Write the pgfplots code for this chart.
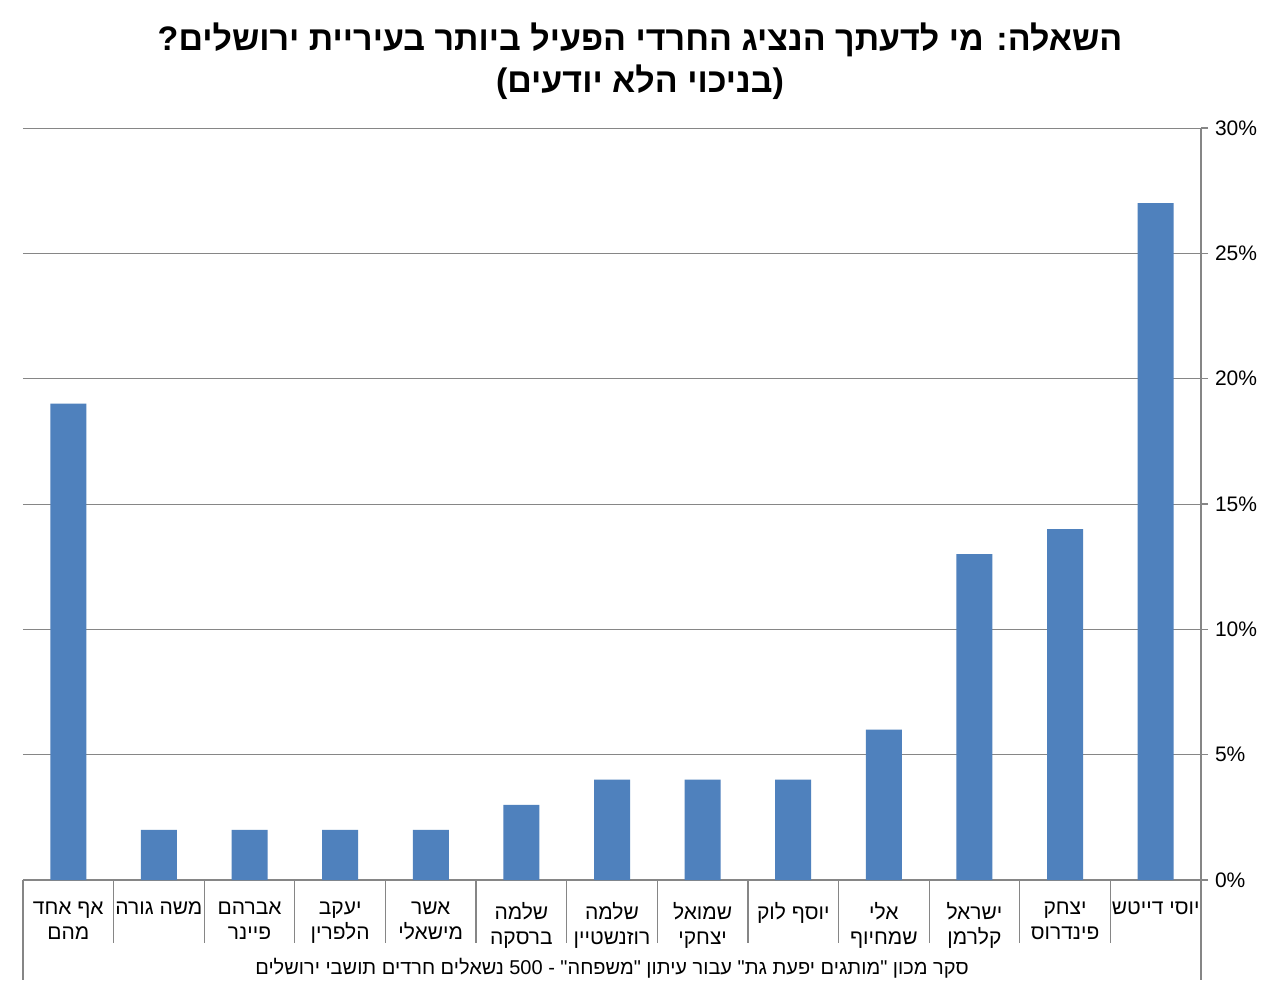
\documentclass[border=0pt]{standalone}
\usepackage{fontspec}
\setmainfont{Liberation Sans}
\newfontfamily\hebfont[Script=Hebrew]{Liberation Sans}
\TeXXeTstate=1
\usepackage{pgfplots}
\pgfplotsset{compat=1.18}
\definecolor{barblue}{HTML}{4F81BD}
\definecolor{gridgray}{HTML}{868686}
\newcommand\heb[1]{{\hebfont\beginR #1\endR}}
\begin{document}
\begin{tikzpicture}
\fill[white] (-11.5pt,-56pt) rectangle (626.5pt,440pt);
\path[use as bounding box] (-11.5pt,-56pt) rectangle (626.5pt,440pt);
\begin{axis}[
    at={(0,0)}, anchor=south west,
    scale only axis,
    width=589pt, height=376pt,
    xmin=-0.5, xmax=12.5,
    ymin=0, ymax=30,
    axis x line*=bottom,
    axis y line*=right,
    axis line style={draw=gridgray, line width=0.6pt},
    ytick={0,5,...,30},
    yticklabel={\pgfmathprintnumber{\tick}\%},
    /pgf/number format/assume math mode=true,
    yticklabel style={font=\fontsize{10.5}{12}\selectfont, text=black, xshift=0pt},
    ytick style={draw=gridgray, line width=0.6pt},
    tick align=outside,
    major tick length=3.5pt,
    ymajorgrids=true,
    grid style={draw=gridgray, line width=0.5pt},
    xtick={0,...,12},
    xtick style={draw=none},
    xticklabel style={font=\fontsize{10.5}{12.5}\selectfont, align=center, anchor=north, yshift=-4pt},
    xticklabels={
        {\heb{אף אחד}\\\heb{מהם}},
        {\heb{משה גורה}},
        {\heb{אברהם}\\\heb{פיינר}},
        {\heb{יעקב}\\\heb{הלפרין}},
        {\heb{אשר}\\\heb{מישאלי}},
        {\heb{שלמה}\\\heb{ברסקה}},
        {\heb{שלמה}\\\heb{רוזנשטיין}},
        {\heb{שמואל}\\\heb{יצחקי}},
        {\heb{יוסף לוק}},
        {\heb{אלי}\\\heb{שמחיוף}},
        {\heb{ישראל}\\\heb{קלרמן}},
        {\heb{יצחק}\\\heb{פינדרוס}},
        {\heb{יוסי דייטש}}
    },
    ybar,
    bar width=18pt,
    clip=false,
]
\addplot[fill=barblue, draw=none] coordinates {
    (0,19) (1,2) (2,2) (3,2) (4,2) (5,3) (6,4)
    (7,4) (8,4) (9,6) (10,13) (11,14) (12,27)
};
\pgfplotsinvokeforeach{0.5,1.5,...,11.5}{
    \draw[gridgray, line width=0.6pt] (axis cs:#1,0) -- ([yshift=-31.5pt]axis cs:#1,0);
}
\draw[gridgray, line width=0.6pt] (axis cs:-0.5,0) -- ([yshift=-50pt]axis cs:-0.5,0);
\draw[gridgray, line width=0.6pt] (axis cs:12.5,0) -- ([yshift=-50pt]axis cs:12.5,0);
\node[font=\fontsize{10}{12}\selectfont, yshift=-44pt] at (axis cs:6,0)
    {\heb{סקר מכון "מותגים יפעת גת" עבור עיתון "משפחה" - \beginL 500\endL{} נשאלים חרדים תושבי ירושלים}};
\end{axis}
\node[font=\fontsize{17}{20}\selectfont\bfseries, align=center] at (308.5pt,409.5pt)
    {\heb{השאלה: מי לדעתך הנציג החרדי הפעיל ביותר בעיריית ירושלים?}\\[1pt]
     \heb{(בניכוי הלא יודעים)}};
\end{tikzpicture}
\end{document}
